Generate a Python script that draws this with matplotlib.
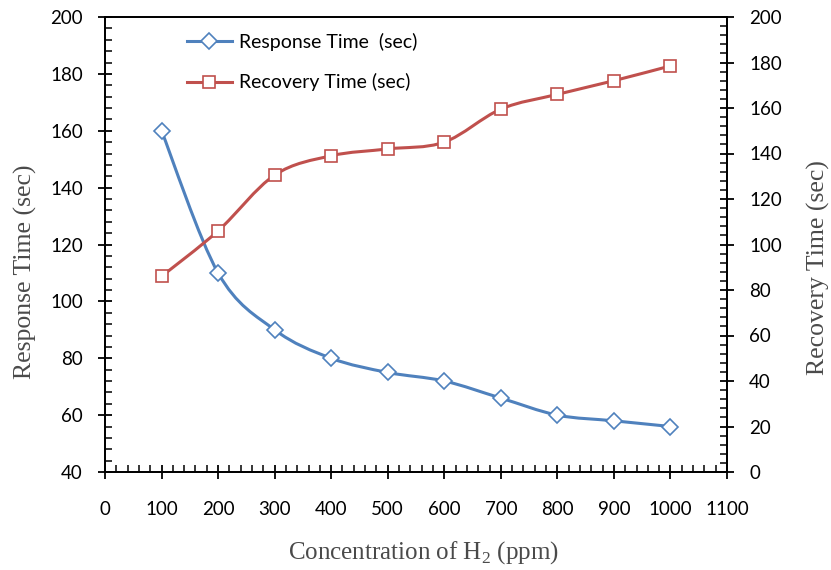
import numpy as np
import matplotlib.pyplot as plt
from matplotlib.path import Path
from matplotlib.patches import PathPatch
from matplotlib.ticker import MultipleLocator

# dados
concentration = [100, 200, 300, 400, 500, 600, 700, 800, 900, 1000]
response_time = [160, 110, 90, 80, 75, 72, 66, 60, 58, 56]
recovery_time = [86, 106, 130.5, 139, 142, 145, 159.5, 166, 172, 178.5]

blue = '#4F81BD'
red = '#C0504D'
tick_font = 'Lato'
label_font = 'Liberation Serif'

plt.rcParams['mathtext.fontset'] = 'custom'
plt.rcParams['mathtext.rm'] = label_font


def smooth_path(x, y):
    # curva suavizada tipo Excel (Catmull-Rom em Bezier cúbica)
    p = np.column_stack([x, y]).astype(float)
    verts = [p[0]]
    codes = [Path.MOVETO]
    n = len(p)
    for i in range(n - 1):
        p0 = p[i - 1] if i > 0 else p[i]
        p1 = p[i]
        p2 = p[i + 1]
        p3 = p[i + 2] if i + 2 < n else p[i + 1]
        c1 = p1 + (p2 - p0) / 6.0
        c2 = p2 - (p3 - p1) / 6.0
        verts += [c1, c2, p2]
        codes += [Path.CURVE4] * 3
    return Path(verts, codes)


fig = plt.figure(figsize=(8.31, 5.70), dpi=100)
ax = fig.add_axes([105 / 831, 1 - 472 / 570, (727 - 105) / 831, (472 - 17) / 570])
ax2 = ax.twinx()

ax.add_patch(PathPatch(smooth_path(concentration, response_time), fill=False,
                       edgecolor=blue, lw=2.2, zorder=2))
ax.plot(concentration, response_time, ls='none', marker='D', ms=8,
        mfc='white', mec=blue, mew=1.2, zorder=3)
ax2.add_patch(PathPatch(smooth_path(concentration, recovery_time), fill=False,
                        edgecolor=red, lw=2.2, zorder=2))
ax2.plot(concentration, recovery_time, ls='none', marker='s', ms=9,
         mfc='white', mec=red, mew=1.2, zorder=3)

# handles para a legenda
h1, = ax.plot([], [], color=blue, lw=2.2, marker='D', ms=8, mfc='white', mec=blue, mew=1.2)
h2, = ax.plot([], [], color=red, lw=2.2, marker='s', ms=9, mfc='white', mec=red, mew=1.2)

ax.set_xlim(0, 1100)
ax.set_ylim(40, 200)
ax2.set_ylim(0, 200)

ax.xaxis.set_major_locator(MultipleLocator(100))
ax.xaxis.set_minor_locator(MultipleLocator(20))
ax.yaxis.set_major_locator(MultipleLocator(20))
ax.yaxis.set_minor_locator(MultipleLocator(4))
ax2.yaxis.set_major_locator(MultipleLocator(20))
ax2.yaxis.set_minor_locator(MultipleLocator(4))

for a in (ax, ax2):
    for s in a.spines.values():
        s.set_linewidth(1.3)
    a.tick_params(which='major', direction='inout', length=10, width=1.3,
                  labelsize=13.5, colors='black')
    a.tick_params(which='minor', direction='in', length=5, width=1.1)
    for lab in a.get_xticklabels() + a.get_yticklabels():
        lab.set_fontfamily(tick_font)
ax.tick_params(axis='x', pad=16)
ax.tick_params(axis='y', pad=11)
ax2.tick_params(axis='y', pad=11)

ax.set_xlabel('Concentration of H$_2$ (ppm)', fontsize=18, family=label_font,
              color='#4a4a4a')
ax.set_ylabel('Response Time (sec)', fontsize=18.5, family=label_font,
              color='#4a4a4a')
ax2.set_ylabel('Recovery Time (sec)', fontsize=18.5, family=label_font,
               color='#4a4a4a')
ax.xaxis.set_label_coords((423 - 105) / 622, (472 - 553) / 455)
ax.xaxis.label.set_verticalalignment('center')
ax.yaxis.set_label_coords((25 - 105) / 622, (472 - 272) / 455)
ax.yaxis.label.set_verticalalignment('center')
ax2.yaxis.set_label_coords((818 - 105) / 622, (472 - 268) / 455)
ax2.yaxis.label.set_verticalalignment('center')

leg = fig.legend([h1, h2], ['Response Time  (sec)', 'Recovery Time (sec)'],
                 loc='upper left', bbox_to_anchor=(187 / 831, 1 - 33 / 570),
                 frameon=False, borderpad=0, borderaxespad=0,
                 handlelength=2.3, handletextpad=0.35, labelspacing=1.15,
                 prop={'family': tick_font, 'size': 14})

fig.savefig('out.png', dpi=100)
